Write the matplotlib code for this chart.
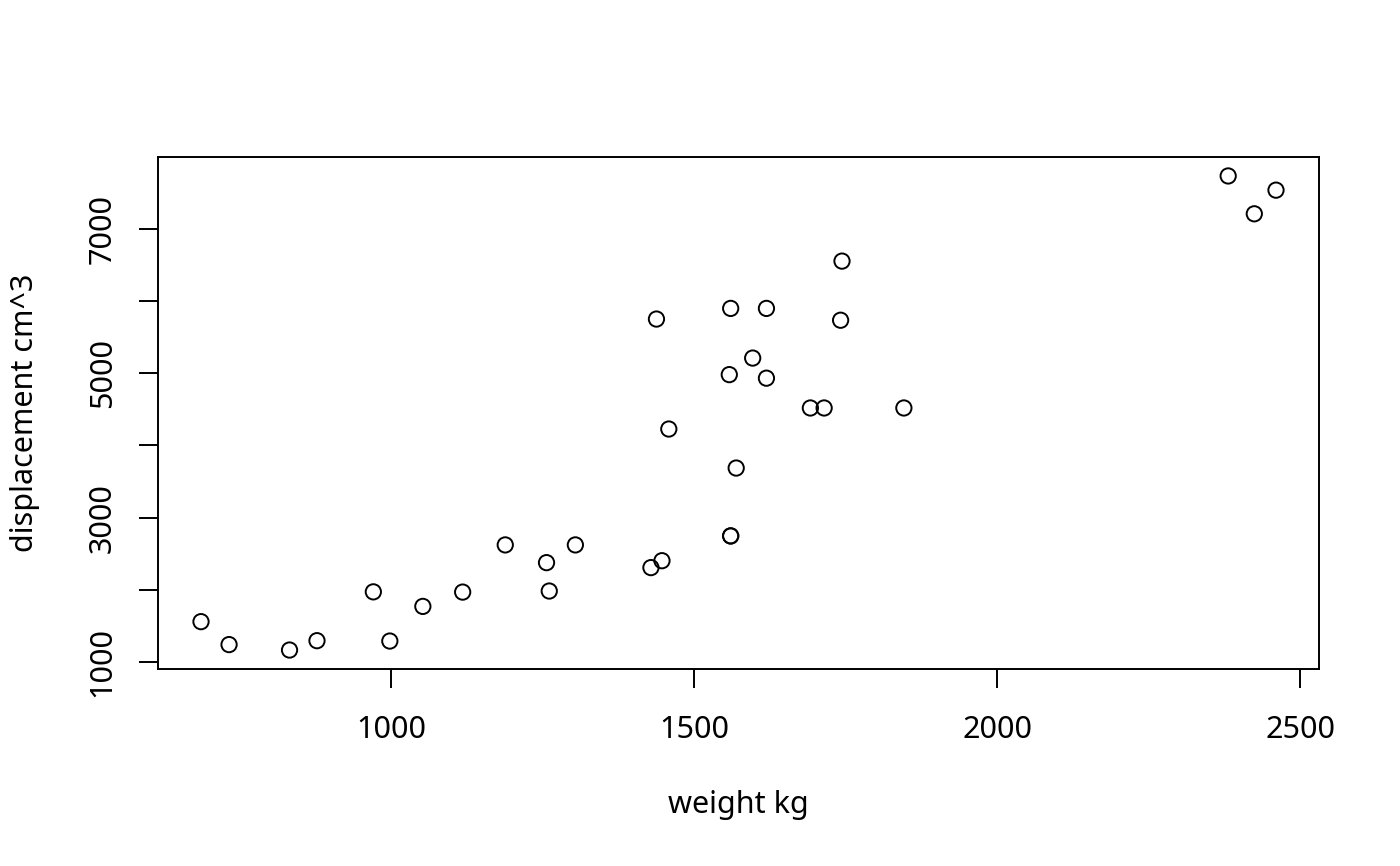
import matplotlib
matplotlib.use("Agg")
import matplotlib.pyplot as plt

weight_kg = [1188.4, 1304.1, 1052.4, 1458.3, 1560.4, 1569.5, 1619.4, 1447.0,
             1428.8, 1560.4, 1560.4, 1846.2, 1691.9, 1714.6, 2381.4, 2460.3,
             2424.5, 997.9, 732.6, 832.4, 1118.1, 1596.7, 1558.1, 1741.8,
             1744.1, 877.7, 970.7, 686.3, 1437.9, 1256.5, 1619.4, 1261.0]
displacement_cm3 = [2621.9, 2621.9, 1769.8, 4227.8, 5899.3, 3687.1, 5899.3, 2403.0,
                    2307.3, 2746.5, 2746.5, 4519.5, 4519.5, 4519.5, 7734.7, 7538.0,
                    7210.3, 1289.7, 1240.5, 1165.1, 1968.1, 5211.1, 4981.6, 5735.5,
                    6554.8, 1294.6, 1971.4, 1558.4, 5751.8, 2376.1, 4932.5, 1982.8]
x_ticks = [1000, 1500, 2000, 2500]
y_ticks = [1000, 2000, 3000, 4000, 5000, 6000, 7000]
y_tick_labels = ["1000", "", "3000", "", "5000", "", "7000"]

plt.rcParams['font.family'] = ['Noto Sans', 'DejaVu Sans']
W, H = 1400, 866
fig = plt.figure(figsize=(W / 100, H / 100), dpi=100)
L, R, T, B = 158, 1319, 157, 669
ax = fig.add_axes([L / W, 1 - B / H, (R - L) / W, (B - T) / H])

ax.scatter(weight_kg, displacement_cm3, s=11 ** 2, facecolors='none',
           edgecolors='black', linewidths=1.4, zorder=3)

xr = max(weight_kg) - min(weight_kg)
yr = max(displacement_cm3) - min(displacement_cm3)
ax.set_xlim(min(weight_kg) - 0.04 * xr, max(weight_kg) + 0.04 * xr)
ax.set_ylim(min(displacement_cm3) - 0.04 * yr, max(displacement_cm3) + 0.04 * yr)

ax.set_xticks(x_ticks)
ax.set_xticklabels([str(v) for v in x_ticks])
ax.set_yticks(y_ticks)
ax.set_yticklabels(y_tick_labels, rotation=90, va='center')

for sp in ax.spines.values():
    sp.set_linewidth(1.4)
ax.tick_params(axis='both', direction='out', length=14, width=1.4,
               labelsize=22, pad=15)
ax.tick_params(axis='x', pad=19)

ax.set_xlabel("weight kg", fontsize=22, va='center')
ax.xaxis.set_label_coords((738 - L) / (R - L), -(805 - B) / (B - T))
ax.set_ylabel("displacement cm^3", fontsize=22, va='center')
ax.yaxis.set_label_coords(-(L - 25) / (R - L), 0.5)

fig.savefig("out.png", dpi=100)
